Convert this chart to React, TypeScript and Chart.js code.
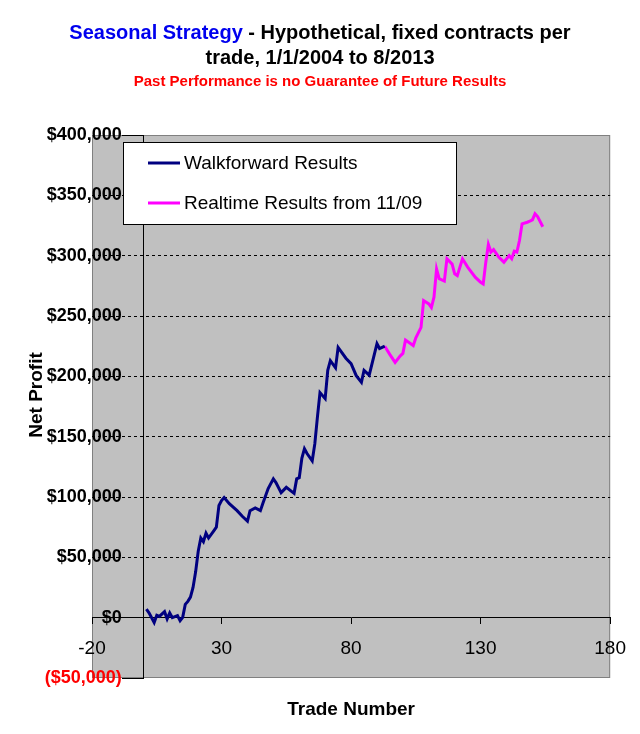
import { useEffect, useRef } from 'react';
import { Chart, registerables } from 'chart.js';

Chart.register(...registerables);

const FONT = "'Liberation Sans', Arial, sans-serif";

const TITLE_BLUE = 'Seasonal Strategy';
const TITLE_REST = ' - Hypothetical, fixed contracts per';
const TITLE_LINE2 = 'trade, 1/1/2004 to 8/2013';
const SUBTITLE = 'Past Performance is no Guarantee of Future Results';
const X_TITLE = 'Trade Number';
const Y_TITLE = 'Net Profit';

const X_MIN = -20;
const X_MAX = 180;
const X_STEP = 50;
const Y_MIN = -50000;
const Y_MAX = 400000;
const Y_STEP = 50000;
// y axis crosses at trade 0, its labels end a little to the left of it
const Y_CROSS = 0;
const Y_LABEL_AT = -8.5;

// walkforward (navy) - trade number / net profit in $k
const walkTrades = [1, 2, 4, 5, 6, 8, 9, 10, 11, 13, 14, 15, 16, 17, 18, 19, 20, 21, 22, 23, 24, 25, 27, 28, 29, 30, 31, 33, 36, 38, 40, 41, 43, 45, 46, 48, 50, 51, 53, 55, 58, 59, 60, 61, 62, 63, 65, 66, 67, 68, 70, 71, 72, 74, 75, 78, 80, 82, 84, 85, 87, 90, 91, 93];
const walkProfit = [7, 4, -4, 2, 1, 5, -1, 4, 0, 1.7, -2.5, 0.3, 11, 13.5, 17, 25, 38, 55, 66, 63, 70, 66, 72, 75, 93, 97, 99.5, 94.5, 88.7, 84, 80, 88.7, 91, 88.7, 95, 107, 115, 112, 103.6, 108, 103, 115, 116, 132, 140, 136, 130, 144, 166, 186.5, 181.5, 205, 213, 207, 224, 215, 210.5, 200.6, 195, 205, 201, 227, 223, 225];

// realtime from 11/09 (magenta)
const realTrades = [93, 95, 97, 99, 100, 101, 104, 105, 107, 108, 110, 111, 112, 113, 114, 116, 117, 119, 120, 121, 123, 125, 128, 130, 131, 132, 133, 134, 135, 137, 139, 141, 142, 143, 144, 145, 146, 148, 149, 150, 151, 152, 154];
const realProfit = [225, 218, 211.6, 217, 219, 230, 225.5, 232, 240.6, 262.8, 260, 257, 265.6, 289, 281, 279, 297.4, 293, 285, 283.5, 297.4, 290.5, 282, 278, 276.6, 294.6, 309.3, 303, 305, 298.8, 294.6, 300, 297.4, 303.7, 303, 312.5, 326.4, 327.7, 328.6, 329.7, 334.7, 332.4, 324];

const toPoints = (xs: number[], ys: number[]) => xs.map((x, i) => ({ x, y: ys[i] * 1000 }));

const money = (v: number) => {
  const s = '$' + Math.abs(v).toLocaleString('en-US');
  return v < 0 ? '(' + s + ')' : s;
};

const decorPlugin = {
  id: 'decor',
  beforeDraw(chart: Chart) {
    const { ctx, chartArea: a } = chart;
    ctx.save();
    ctx.fillStyle = '#c0c0c0';
    ctx.fillRect(a.left, a.top, a.right - a.left, a.bottom - a.top);
    ctx.strokeStyle = '#808080';
    ctx.lineWidth = 1;
    ctx.strokeRect(a.left + 0.5, a.top + 0.5, a.right - a.left - 1, a.bottom - a.top - 1);
    ctx.restore();
  },
  afterDraw(chart: Chart) {
    const { ctx, chartArea: a, width } = chart;
    ctx.save();
    ctx.textBaseline = 'middle';

    // title
    ctx.font = `bold 20px ${FONT}`;
    const w1 = ctx.measureText(TITLE_BLUE).width;
    const w2 = ctx.measureText(TITLE_REST).width;
    const x = width / 2 - (w1 + w2) / 2;
    ctx.textAlign = 'left';
    ctx.fillStyle = '#0000ee';
    ctx.fillText(TITLE_BLUE, x, 33);
    ctx.fillStyle = '#000';
    ctx.fillText(TITLE_REST, x + w1, 33);
    ctx.textAlign = 'center';
    ctx.fillText(TITLE_LINE2, width / 2, 58);
    ctx.font = `bold 15px ${FONT}`;
    ctx.fillStyle = '#ff0000';
    ctx.fillText(SUBTITLE, width / 2, 82);

    // axis titles
    ctx.fillStyle = '#000';
    ctx.font = `bold 19px ${FONT}`;
    ctx.fillText(X_TITLE, (a.left + a.right) / 2, 710);
    ctx.save();
    ctx.translate(37, 395);
    ctx.rotate(-Math.PI / 2);
    ctx.fillText(Y_TITLE, 0, 0);
    ctx.restore();

    // legend
    const lx = a.left + 31;
    const ly = a.top + 7;
    const lw = 333;
    const lh = 82;
    ctx.fillStyle = '#fff';
    ctx.fillRect(lx, ly, lw, lh);
    ctx.strokeStyle = '#000';
    ctx.lineWidth = 1;
    ctx.strokeRect(lx + 0.5, ly + 0.5, lw, lh);
    ctx.font = `19px ${FONT}`;
    ctx.textAlign = 'left';
    chart.data.datasets.forEach((ds: any, i: number) => {
      const y = ly + 21 + i * 40;
      ctx.strokeStyle = ds.borderColor;
      ctx.lineWidth = 3;
      ctx.beginPath();
      ctx.moveTo(lx + 25, y);
      ctx.lineTo(lx + 57, y);
      ctx.stroke();
      ctx.fillStyle = '#000';
      ctx.fillText(ds.label, lx + 61, y + 1);
    });
    ctx.restore();
  },
};

export default function App() {
  const canvasRef = useRef<HTMLCanvasElement>(null);

  useEffect(() => {
    if (!canvasRef.current) return;
    const chart = new Chart(canvasRef.current, {
      type: 'line',
      data: {
        datasets: [
          {
            label: 'Walkforward Results',
            data: toPoints(walkTrades, walkProfit),
            borderColor: '#000080',
            borderWidth: 3,
            pointRadius: 0,
            tension: 0,
          },
          {
            label: 'Realtime Results from 11/09',
            data: toPoints(realTrades, realProfit),
            borderColor: '#ff00ff',
            borderWidth: 3,
            pointRadius: 0,
            tension: 0,
          },
        ],
      },
      options: {
        animation: false,
        responsive: true,
        maintainAspectRatio: false,
        layout: { padding: { left: 92, right: 26, top: 135, bottom: 56 } },
        plugins: {
          legend: { display: false },
          title: { display: false },
          tooltip: { enabled: false },
        },
        scales: {
          x: {
            type: 'linear',
            min: X_MIN,
            max: X_MAX,
            position: { y: 0 },
            afterFit: (s: any) => { s.height = 0; },
            ticks: {
              stepSize: X_STEP,
              color: '#000',
              font: { family: FONT, size: 19 },
              padding: 14,
              maxRotation: 0,
            },
            grid: { drawOnChartArea: false, tickLength: 6, tickColor: '#000' },
            border: { color: '#000', width: 1 },
          },
          y: {
            type: 'linear',
            min: Y_MIN,
            max: Y_MAX,
            position: { x: Y_CROSS },
            afterFit: (s: any) => { s.width = 0; },
            ticks: { stepSize: Y_STEP, display: false },
            grid: {
              color: (c: any) => {
                const v = c.tick ? c.tick.value : 0;
                return v === Y_MIN || v === Y_MAX || v === 0 ? 'transparent' : '#000';
              },
              tickColor: '#000',
              tickLength: 21,
              tickBorderDash: (c: any) => {
                const v = c.tick ? c.tick.value : 0;
                return v === Y_MIN || v === Y_MAX ? [] : [3, 3];
              },
            },
            border: { color: '#000', width: 1, dash: [3, 3] },
          },
          yLabels: {
            type: 'linear',
            axis: 'y',
            min: Y_MIN,
            max: Y_MAX,
            position: { x: Y_LABEL_AT },
            afterFit: (s: any) => { s.width = 0; },
            ticks: {
              stepSize: Y_STEP,
              callback: (v: any) => money(Number(v)),
              color: (c: any) => (c.tick && c.tick.value < 0 ? '#ff0000' : '#000'),
              font: { family: FONT, size: 18, weight: 'bold' },
              padding: 0,
            },
            grid: { display: false },
            border: { display: false },
          },
        },
      },
      plugins: [decorPlugin],
    });
    return () => chart.destroy();
  }, []);

  return (
    <div style={{ position: 'absolute', left: 0, top: 0, width: 640, height: 734, background: '#fff' }}>
      <canvas ref={canvasRef} />
    </div>
  );
}
